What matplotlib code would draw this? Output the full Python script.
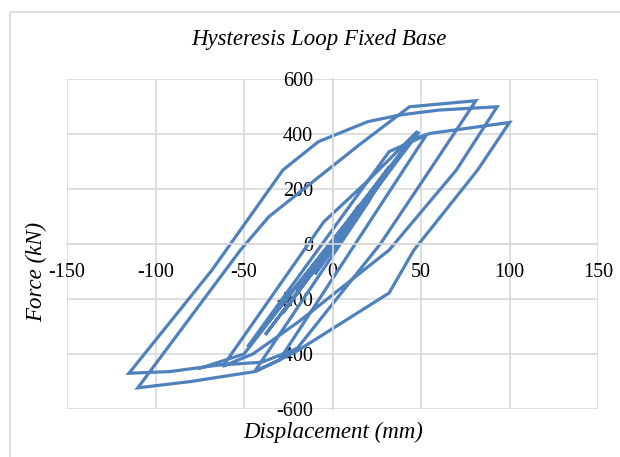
import matplotlib.pyplot as plt
from matplotlib.patches import Rectangle

# Displacement (mm) and force (kN), in path order
displacement = [0, 8, -6, 15, -12, 24, -20, 32, -28, 40,
                -38, 49, -48, 32, 53, -30, -44, 20, 30, -10,
                45, 55, 100, 82, 46, 32, -19, -30, -44, -80,
                -110, -52, -36, 15, 43.5, 81, 55, 27, -20, -40,
                -64, -92, -115, -68, -28, -8, 20, 38, 60, 93,
                70, 32, -19, -45, -62, -5, 20, 48, -50, -75]
force = [0, 70, -50, 140, -110, 210, -170, 280, -250, 340,
         -330, 408, -374, 336, 396, -422, -464, 150, 260, -110,
         380, 402, 442, 269, -22, -178, -385, -422, -464, -500,
         -523, -22, 99, 360, 499, 521, 269, 0, -380, -430,
         -440, -464, -470, -94, 269, 372, 445, 469, 487, 499,
         269, -22, -282, -400, -445, 80, 230, 410, -400, -452]

x_ticks = [-150, -100, -50, 0, 50, 100, 150]
y_ticks = [-600, -400, -200, 0, 200, 400, 600]

plt.rcParams['font.family'] = ['Liberation Serif', 'DejaVu Serif']
plt.rcParams['axes.unicode_minus'] = False

fig = plt.figure(figsize=(6.2, 4.57), dpi=100)
# chart area border (Excel style)
fig.patches.append(Rectangle((10 / 620, -0.1), 1.2, 1 - 12 / 457 + 0.1,
                             transform=fig.transFigure, fill=False,
                             edgecolor='#D9D9D9', linewidth=1.2))

ax = fig.add_axes([67 / 620, 1 - 409 / 457, 531 / 620, 330 / 457])
ax.plot(displacement, force, color='#4F81BD', linewidth=2.3, solid_joinstyle='miter')

ax.set_xlim(-150, 150)
ax.set_ylim(-600, 600)
ax.set_xticks(x_ticks)
ax.set_yticks(y_ticks)
ax.grid(True, color='#D9D9D9', linewidth=1.2)
ax.set_axisbelow(True)

for side in ['top', 'right']:
    ax.spines[side].set_visible(False)
ax.spines['left'].set_position(('data', 0))
ax.spines['bottom'].set_position(('data', 0))
for side in ['left', 'bottom']:
    ax.spines[side].set_color('#D9D9D9')
    ax.spines[side].set_linewidth(1.2)
ax.tick_params(length=0, labelsize=14.5, colors='black')
ax.tick_params(axis='x', pad=14)
ax.tick_params(axis='y', pad=14)

fig.text(0.515, 1 - 40 / 457, 'Hysteresis Loop Fixed Base', ha='center', va='center',
         fontsize=16.5, style='italic')
fig.text(333 / 620, 1 - 432 / 457, 'Displacement (mm)', ha='center', va='center',
         fontsize=16.5, style='italic')
fig.text(37 / 620, 1 - 272 / 457, 'Force (kN)', ha='center', va='center',
         fontsize=16.5, style='italic', rotation=90)

fig.savefig('out.png', dpi=100)
